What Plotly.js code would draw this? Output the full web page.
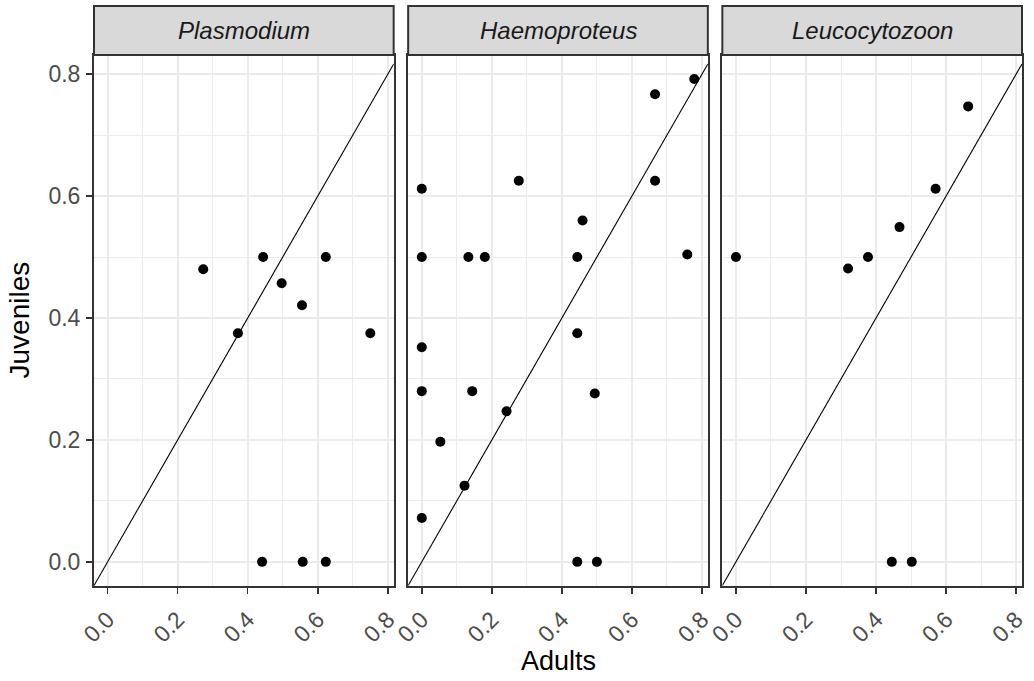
<!DOCTYPE html>
<html>
<head>
<meta charset="utf-8">
<script src="https://cdn.plot.ly/plotly-3.0.1.min.js"></script>
<style>html,body{margin:0;padding:0;background:#fff;}#chart{width:1034px;height:681px;}</style>
</head>
<body>
<div id="chart"></div>
<script>
// ---- data ----
const parasites = ["Plasmodium", "Haemoproteus", "Leucocytozoon"];

const plasmodiumAdults    = [0.273, 0.444, 0.497, 0.555, 0.623, 0.372, 0.750, 0.441, 0.557, 0.623];
const plasmodiumJuveniles = [0.480, 0.500, 0.457, 0.421, 0.500, 0.375, 0.375, 0.000, 0.000, 0.000];

const haemoproteusAdults    = [0.000, 0.277, 0.666, 0.778, 0.666, 0.459, 0.000, 0.133, 0.180, 0.444, 0.758,
                               0.444, 0.000, 0.000, 0.144, 0.494, 0.242, 0.053, 0.122, 0.000, 0.444, 0.500];
const haemoproteusJuveniles = [0.612, 0.625, 0.767, 0.792, 0.625, 0.560, 0.500, 0.500, 0.500, 0.500, 0.504,
                               0.375, 0.352, 0.280, 0.280, 0.276, 0.247, 0.197, 0.125, 0.072, 0.000, 0.000];

const leucocytozoonAdults    = [0.000, 0.320, 0.377, 0.467, 0.570, 0.663, 0.445, 0.502];
const leucocytozoonJuveniles = [0.500, 0.481, 0.500, 0.549, 0.612, 0.747, 0.000, 0.000];

const xTicks = [0, 0.2, 0.4, 0.6, 0.8];
const yTicks = [0, 0.2, 0.4, 0.6, 0.8];
const xRange = [-0.0389, 0.8167];
const yRange = [-0.0396, 0.8313];
const xTitle = "Adults";
const yTitle = "Juveniles";

// ---- geometry ----
const W = 1034, H = 681;
const mL = 94, mR = 12, mT = 55, mB = 95;
const plotW = W - mL - mR, plotH = H - mT - mB;
const gap = 14.5;
const panelW = (plotW - 2 * gap) / 3;
const stripH = 49;
const FONT = "Liberation Sans, Arial, sans-serif";

const allX = [plasmodiumAdults, haemoproteusAdults, leucocytozoonAdults];
const allY = [plasmodiumJuveniles, haemoproteusJuveniles, leucocytozoonJuveniles];

const traces = [];
const shapes = [];
const annotations = [];
const layout = {
  width: W, height: H,
  margin: {l: mL, r: mR, t: mT, b: mB, pad: 0},
  paper_bgcolor: "#FFFFFF",
  plot_bgcolor: "#FFFFFF",
  showlegend: false,
  font: {family: FONT, color: "#000000"}
};

parasites.forEach((name, i) => {
  const sx = i === 0 ? "" : String(i + 1);
  const d0 = (i * (panelW + gap)) / plotW;
  const d1 = (i * (panelW + gap) + panelW) / plotW;

  // reference line y = x, clipped to panel
  traces.push({
    type: "scatter", mode: "lines",
    x: xRange, y: xRange,
    xaxis: "x" + sx, yaxis: "y" + sx,
    line: {color: "#000000", width: 1.1},
    hoverinfo: "skip"
  });
  traces.push({
    type: "scatter", mode: "markers",
    x: allX[i], y: allY[i],
    xaxis: "x" + sx, yaxis: "y" + sx,
    marker: {color: "#000000", size: 10},
    cliponaxis: false
  });

  layout["xaxis" + sx] = {
    domain: [d0, d1],
    anchor: "y" + sx,
    range: xRange,
    tickvals: xTicks,
    tickformat: ".1f",
    tickangle: -45,
    ticks: "outside", ticklen: 6, tickwidth: 1.5, tickcolor: "#333333",
    ticklabelstandoff: 3,
    tickfont: {size: 23, color: "#4D4D4D", family: FONT},
    showgrid: true, gridcolor: "#EBEBEB", gridwidth: 2,
    minor: {dtick: 0.1, tick0: 0.1, showgrid: true, gridcolor: "#EBEBEB", gridwidth: 1, ticks: ""},
    zeroline: false,
    showline: true, linecolor: "#333333", linewidth: 2, mirror: true,
    fixedrange: true
  };
  layout["yaxis" + sx] = {
    domain: [0, 1],
    anchor: "x" + sx,
    range: yRange,
    tickvals: yTicks,
    tickformat: ".1f",
    ticks: i === 0 ? "outside" : "",
    ticklen: 6, tickwidth: 1.5, tickcolor: "#333333",
    showticklabels: i === 0,
    ticklabelstandoff: 1,
    tickfont: {size: 23, color: "#4D4D4D", family: FONT},
    showgrid: true, gridcolor: "#EBEBEB", gridwidth: 2,
    minor: {dtick: 0.1, tick0: 0.1, showgrid: true, gridcolor: "#EBEBEB", gridwidth: 1, ticks: ""},
    zeroline: false,
    showline: true, linecolor: "#333333", linewidth: 2, mirror: true,
    fixedrange: true
  };

  // facet strip
  shapes.push({
    type: "rect", xref: "paper", yref: "paper",
    x0: d0, x1: d1, y0: 1, y1: 1 + stripH / plotH,
    fillcolor: "#D9D9D9",
    line: {color: "#333333", width: 2},
    layer: "above"
  });
  annotations.push({
    xref: "paper", yref: "paper",
    x: (d0 + d1) / 2, y: 1 + (stripH / 2) / plotH,
    xanchor: "center", yanchor: "middle",
    text: name, showarrow: false,
    font: {size: 24, color: "#1A1A1A", style: "italic", family: FONT}
  });
});

annotations.push({
  xref: "paper", yref: "paper", x: 0.5, y: 0,
  xanchor: "center", yanchor: "middle", yshift: -75,
  text: xTitle, showarrow: false,
  font: {size: 27, color: "#000000", family: FONT}
});
annotations.push({
  xref: "paper", yref: "paper", x: 0, y: 0.5,
  xanchor: "center", yanchor: "middle", xshift: -75,
  textangle: -90,
  text: yTitle, showarrow: false,
  font: {size: 28, color: "#000000", family: FONT}
});

layout.shapes = shapes;
layout.annotations = annotations;

Plotly.newPlot("chart", traces, layout, {displayModeBar: false, staticPlot: true});
</script>
</body>
</html>
